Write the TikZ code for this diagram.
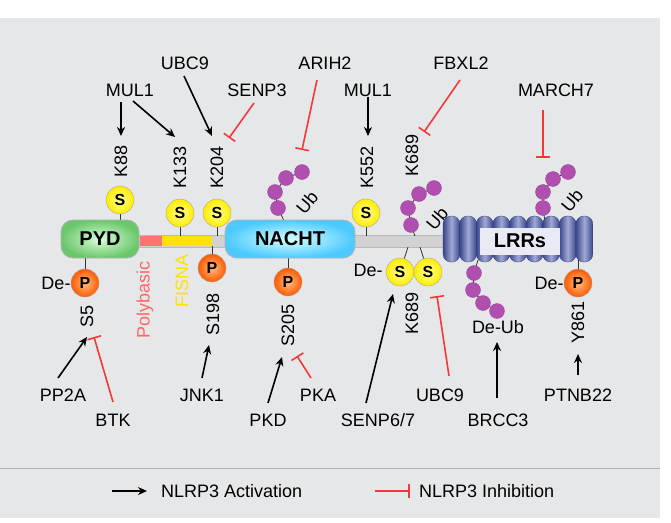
\documentclass[tikz,border=0pt]{standalone}
\usepackage{fontspec}
\setmainfont{Liberation Sans}
\usetikzlibrary{arrows.meta,shapes.geometric}
\definecolor{bg}{HTML}{E6E7E9}
\definecolor{inh}{HTML}{F2393A}
\definecolor{ubc}{HTML}{B14FB1}
\definecolor{lrr}{HTML}{4452A6}
\begin{document}
\begin{tikzpicture}[x=1pt,y=-1pt,
  lab/.style={font=\fontsize{18}{20}\selectfont, inner sep=1pt},
  rlab/.style={lab, rotate=90},
  act/.style={-{Stealth[length=9pt,width=8pt]}, line width=1.6pt},
  inhb/.style={-{Bar[width=14pt,line width=1.6pt]}, inh, line width=1.6pt},
  sc/.style={circle, minimum size=28pt, inner sep=0pt, draw=gray!70, inner color=yellow!40, outer color=yellow!85!orange, font=\bfseries\fontsize{16}{16}\selectfont},
  pc/.style={circle, minimum size=28pt, inner sep=0pt, draw=gray!70, inner color=orange!50, outer color=orange!70!red, font=\bfseries\fontsize{16}{16}\selectfont},
  ub/.style={circle, minimum size=15pt, inner sep=0pt, fill=ubc, draw=ubc!80!black, line width=0.3pt},
  st/.style={line width=0.8pt, black!80},
  dom/.style={rounded corners=12pt, draw=gray!60, line width=0.8pt, font=\bfseries\fontsize{20}{20}\selectfont}
]
\useasboundingbox (0,0) rectangle (671,522);
\fill[white] (0,0) rectangle (671,522);
\fill[bg] (0,18) rectangle (660,518);
\draw[gray!60, line width=0.8pt] (0,468) -- (660,468);

% backbone
\fill[gray!35] (137,235) rectangle (445,247);
\draw[gray!55] (137,235) -- (445,235) (137,247) -- (445,247);
\fill[red!55!white] (140,236) rectangle (162,246);
\fill[yellow!85!orange] (162,236) rectangle (212,246);

% stems
\draw[st] (120,200) -- (120,222);
\draw[st] (180,213) -- (180,236);
\draw[st] (217,213) -- (217,236);
\draw[st] (366,213) -- (366,236);
\draw[st] (85,283) -- (85,256);
\draw[st] (212,268) -- (212,246);
\draw[st] (288,282) -- (288,256);
\draw[st] (400,272) -- (408,247);
\draw[st] (428,272) -- (420,247);
\draw[st] (578,283) -- (578,260);
\draw[st] (285,223) -- (278,208) -- (275,192) -- (286,178) -- (302,172);
\draw[st] (415,236) -- (411,225) -- (408,208) -- (419,194) -- (434,188);
\draw[st] (478,260) -- (474,273) -- (473,290) -- (483,303) -- (497,311);
\draw[st] (545,222) -- (543,208) -- (543,192) -- (553,179) -- (568,172);

% domains
\node[dom, minimum width=78pt, minimum height=38pt, inner color=green!15, outer color=green!45!gray!80] (pyd) at (100,239) {PYD};
\node[dom, minimum width=130pt, minimum height=38pt, inner color=cyan!15, outer color=cyan!70!blue!70] (nacht) at (290,239) {NACHT};
\foreach \i in {0,...,8} {
  \shade[left color=lrr!85!black, right color=lrr!85!black, middle color=lrr!50!white, rounded corners=8pt, draw=lrr!70!black, line width=0.3pt] (443+\i*16.6,216) rectangle ++(17,46);
}
\node[fill=white!88!lrr, minimum width=80pt, minimum height=27pt, font=\bfseries\fontsize{20}{20}\selectfont] (lrrs) at (520,241) {LRRs};

% S and P
\node[sc] (s88) at (120,200) {S};
\node[sc] (s133) at (180,213) {S};
\node[sc] (s204) at (217,213) {S};
\node[sc] (s552) at (366,213) {S};
\node[sc] (s689a) at (400,272) {S};
\node[sc] (s689b) at (428,272) {S};
\node[pc] (p5) at (85,283) {P};
\node[pc] (p198) at (212,268) {P};
\node[pc] (p205) at (288,282) {P};
\node[pc] (p861) at (578,283) {P};

% Ub chains
\foreach \n/\p in {a1/{278,208},a2/{275,192},a3/{286,178},a4/{302,172},
  b1/{411,225},b2/{408,208},b3/{419,194},b4/{434,188},
  c1/{474,273},c2/{473,290},c3/{483,303},c4/{497,311},
  d1/{543,208},d2/{543,192},d3/{553,179},d4/{568,172}}
  \node[ub] (u\n) at (\p) {};
\node[lab, rotate=50] (ub1) at (307,203) {Ub};
\node[lab, rotate=50] (ub2) at (437,219) {Ub};
\node[lab, rotate=50] (ub3) at (572,201) {Ub};
\node[lab] (deub) at (498,327) {De-Ub};

% side labels
\node[lab] (de1) at (56,283) {De-};
\node[lab] (de2) at (368,270) {De-};
\node[lab] (de3) at (549,283) {De-};
\node[rlab] (k88) at (121,161) {K88};
\node[rlab] (k133) at (180,167) {K133};
\node[rlab] (k204) at (217,167) {K204};
\node[rlab] (k552) at (367,167) {K552};
\node[rlab] (k689a) at (412,155) {K689};
\node[rlab] (s5) at (87,316) {S5};
\node[rlab] (s198) at (213,314) {S198};
\node[rlab] (s205) at (288,325) {S205};
\node[rlab] (k689b) at (412,313) {K689};
\node[rlab] (y861) at (578,322) {Y861};
\node[rlab, text=red!60!white] (poly) at (145,300) {Polybasic};
\node[rlab, text=yellow!85!orange] (fisna) at (182,281) {FISNA};

% regulators
\node[lab] (mul1) at (130,90) {MUL1};
\node[lab] (ubc9) at (185,63) {UBC9};
\node[lab] (senp3) at (257,90) {SENP3};
\node[lab] (arih2) at (325,63) {ARIH2};
\node[lab] (mul1b) at (368,90) {MUL1};
\node[lab] (fbxl2) at (461,63) {FBXL2};
\node[lab] (march7) at (556,90) {MARCH7};
\node[lab] (pp2a) at (63,395) {PP2A};
\node[lab] (btk) at (113,420) {BTK};
\node[lab] (jnk1) at (202,395) {JNK1};
\node[lab] (pkd) at (268,420) {PKD};
\node[lab] (pka) at (318,395) {PKA};
\node[lab] (senp67) at (378,420) {SENP6/7};
\node[lab] (ubc9b) at (440,395) {UBC9};
\node[lab] (brcc3) at (498,420) {BRCC3};
\node[lab] (ptnb) at (578,395) {PTNB22};

\coordinate (t88) at (121,136);
\coordinate (t133) at (175,137);
\coordinate (t204) at (212,136);
\coordinate (t3) at (229,138);
\coordinate (tar) at (302,150);
\coordinate (t552) at (368,136);
\coordinate (tfb) at (424,132);
\coordinate (tm7) at (543,158);
\draw[act] (121,102) -- (t88);
\draw[act] (133,101) -- (t133);
\draw[act] (184,76) -- (t204);
\draw[inhb] (254,103) -- (t3);
\draw[inhb] (317,80) -- (tar);
\draw[act] (mul1b) -- (t552);
\draw[inhb] (460,80) -- (tfb);
\draw[inhb] (march7) ++(-13,20) -- (tm7);

\draw[act] (58,378) -- (s5.east |- 0,337);
\draw[inhb] (113,402) -- (94,337);
\draw[act] (202,378) -- (209,345);
\draw[act] (268,403) -- (282,357);
\draw[inhb] (311,378) -- (297,356);
\draw[act] (366,403) -- (393,294);
\draw[inhb] (449,376) -- (437,296);
\draw[act] (brcc3) ++(-1,-22) -- (497,342);
\draw[act] (ptnb) ++(0,-20) -- (578,354);

% legend
\coordinate (la) at (147,491);
\coordinate (li) at (410,491);
\draw[act] (112,491) -- (la);
\node[lab, anchor=west] (lact) at (160,491) {NLRP3 Activation};
\draw[inhb] (375,491) -- (li);
\node[lab, anchor=west] (linh) at (418,491) {NLRP3 Inhibition};
\end{tikzpicture}
\end{document}
